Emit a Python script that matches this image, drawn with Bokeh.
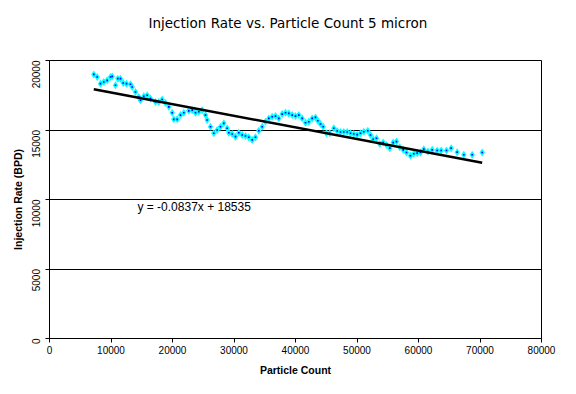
import math
from bokeh.plotting import figure
from bokeh.models import FixedTicker, Label, Range1d, BasicTickFormatter, Title
from bokeh.embed import file_html
from bokeh.resources import INLINE

# Data
particle_count = [7203, 7756, 8293, 8829, 9382, 9919, 10195, 10732, 11106, 11545,
                  11984, 12520, 13171, 13447, 13984, 14520, 14797, 15333, 15886, 16423,
                  17236, 17772, 18325, 18862, 19398, 19951, 20211, 20764, 21301, 21837,
                  22650, 23203, 23740, 24276, 24829, 25366, 25642, 26179, 26715, 27268,
                  27805, 28341, 28894, 29154, 29707, 30244, 30780, 31333, 31870, 32406,
                  32959, 33496, 34032, 34585, 35122, 35658, 36211, 36748, 37284, 37837,
                  38374, 38910, 39463, 40000, 40536, 41089, 41626, 42162, 42715, 43252,
                  43626, 44065, 44504, 45040, 45577, 46227, 46780, 47317, 47853, 48406,
                  48943, 49479, 50032, 50569, 51105, 51756, 52195, 52634, 53170, 53707,
                  54260, 54796, 55333, 55886, 56422, 56959, 57512, 58048, 58699, 59235,
                  59788, 60325, 60861, 61512, 62227, 63040, 63690, 64552, 65316, 66292,
                  67365, 68731, 70357]
injection_rate = [19000, 18808, 18336, 18450, 18572, 18808, 18857, 18215, 18693, 18693,
                  18379, 18336, 18286, 18093, 17736, 17379, 17143, 17429, 17500, 17265,
                  17022, 17022, 17193, 16950, 16665, 16236, 15765, 15765, 16072, 16236,
                  16379, 16429, 16236, 16308, 16429, 16072, 15715, 15236, 14765, 15000,
                  15236, 15479, 15122, 14807, 14715, 14522, 14807, 14643, 14572, 14479,
                  14286, 14479, 14950, 15236, 15593, 15836, 15950, 16000, 15836, 16143,
                  16236, 16193, 16072, 16000, 16072, 15836, 15522, 15593, 15836, 15907,
                  15665, 15429, 15236, 14765, 14765, 15122, 14929, 14857, 14857, 14857,
                  14765, 14715, 14665, 14765, 14879, 14950, 14643, 14336, 14408, 14000,
                  14093, 13929, 13693, 14093, 14165, 13765, 13572, 13379, 13143, 13286,
                  13336, 13379, 13622, 13450, 13572, 13522, 13522, 13522, 13693, 13408,
                  13215, 13215, 13379]
trend_slope = -0.0837
trend_intercept = 18535
x_ticks = [0, 10000, 20000, 30000, 40000, 50000, 60000, 70000, 80000]
y_ticks = [0, 5000, 10000, 15000, 20000]
title_text = "Injection Rate vs. Particle Count 5 micron"
x_title = "Particle Count"
y_title = "Injection Rate (BPD)"
equation_text = "y = -0.0837x + 18535"

FONT = "Liberation Sans"

p = figure(width=560, height=378, output_backend="svg", toolbar_location=None,
           x_range=Range1d(0, 80000), y_range=Range1d(0, 20000),
           min_border_left=49, min_border_right=19, min_border_top=60,
           min_border_bottom=38)

p.title.text = title_text
p.title.align = "left"
p.title.offset = 99
p.title.text_font = "DejaVu Sans"
p.title.text_font_size = "13.5px"
p.title.text_font_style = "normal"
p.title.text_color = "black"
p.title.standoff = 0

# blank spacer between the title and the plot area
p.add_layout(Title(text=" ", text_font_size="1px", standoff=27), "above")

p.background_fill_color = "white"
p.border_fill_color = "white"
p.outline_line_color = "black"
p.outline_line_width = 1
p.outline_line_alpha = 1.0

p.xgrid.visible = False
p.ygrid.ticker = FixedTicker(ticks=y_ticks)
p.ygrid.grid_line_color = "black"
p.ygrid.grid_line_width = 1
p.ygrid.grid_line_alpha = 1.0

for ax, ticks in ((p.xaxis[0], x_ticks), (p.yaxis[0], y_ticks)):
    ax.ticker = FixedTicker(ticks=ticks)
    ax.formatter = BasicTickFormatter(use_scientific=False)
    ax.axis_line_color = "black"
    ax.major_tick_line_color = "black"
    ax.major_tick_out = 4
    ax.major_tick_in = 0
    ax.minor_tick_line_color = None
    ax.major_label_text_font = FONT
    ax.major_label_text_font_size = "10px"
    ax.major_label_text_color = "black"
    ax.axis_label_text_font = FONT
    ax.axis_label_text_font_size = "10.5px"
    ax.axis_label_text_font_style = "bold"
    ax.axis_label_text_color = "black"

p.xaxis.axis_label = x_title
p.yaxis.axis_label = y_title
p.xaxis.major_label_standoff = 3
p.xaxis.axis_label_standoff = 7
p.yaxis.major_label_orientation = math.pi / 2
p.yaxis.major_label_standoff = 10
p.yaxis.axis_label_standoff = 1

# scatter series
p.scatter(particle_count, injection_rate, marker="diamond", size=8,
          fill_color="#00FFFF", line_color=None)
p.scatter(particle_count, injection_rate, marker="square", size=1.6,
          fill_color="#0000FF", line_color=None)

# linear trendline
x0, x1 = min(particle_count), max(particle_count)
p.line([x0, x1], [trend_slope * x0 + trend_intercept, trend_slope * x1 + trend_intercept],
       line_color="black", line_width=2.5)

p.add_layout(Label(x=14300, y=9430, text=equation_text, text_font=FONT,
                   text_font_size="12px", text_baseline="middle", text_color="black"))

open("out.html", "w").write(file_html(p, INLINE))
